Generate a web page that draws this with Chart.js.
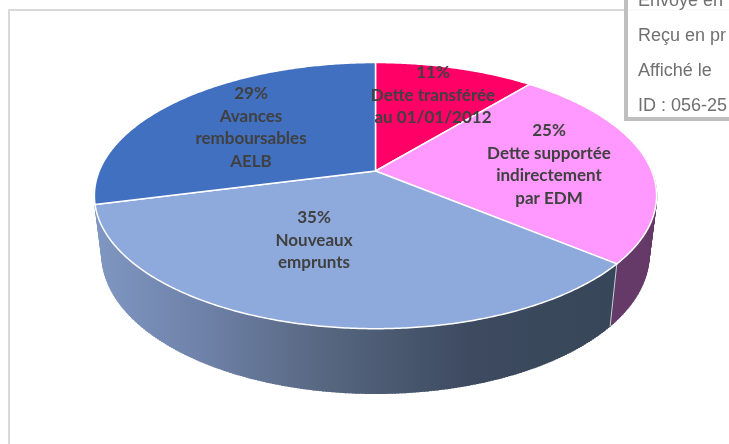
<!DOCTYPE html>
<html>
<head>
<meta charset="utf-8">
<script src="https://cdn.jsdelivr.net/npm/chart.js@4/dist/chart.umd.js"></script>
<style>
  html, body { margin: 0; padding: 0; background: #fff; }
  #wrap { position: relative; width: 729px; height: 444px; overflow: hidden; }
  #frame { position: absolute; left: 8px; top: 9px; width: 800px; height: 500px; border: 2px solid #d9d9d9; }
  #myChart { position: absolute; left: 0; top: 0; }
  #stamp { position: absolute; left: 624px; top: -4px; width: 120px; height: 117px; border: 4px solid #bfbfbf;
           background: rgba(255,255,255,0.85); font: 18px "Liberation Sans", Arial, sans-serif; color: #707070; }
  #stamp div { position: absolute; left: 10px; white-space: nowrap; }
</style>
</head>
<body>
<div id="wrap">
  <div id="frame"></div>
  <canvas id="myChart" width="729" height="444"></canvas>
  <div id="stamp">
    <div style="top:-10px">Envoyé en</div>
    <div style="top:25px">Reçu en pr</div>
    <div style="top:60px">Affiché le</div>
    <div style="top:95px">ID : 056-25</div>
  </div>
</div>
<script>
var categories = ['Dette transférée au 01/01/2012', 'Dette supportée indirectement par EDM', 'Nouveaux emprunts', 'Avances remboursables AELB']
var values = [11, 25, 35, 29]
var labelLines = [
  ['11%', 'Dette transférée', 'au 01/01/2012'],
  ['25%', 'Dette supportée', 'indirectement', 'par EDM'],
  ['35%', 'Nouveaux', 'emprunts'],
  ['29%', 'Avances', 'remboursables', 'AELB']
]
var topColors = ['#ff0066', '#ff99ff', '#8ea9db', '#4170c0']
var labelPos = [[433, 73], [549, 131], [314, 218], [251, 94]]

// tilt of the disc, all relative to the radius chart.js gives the arcs
var tilt = 0.185

function rim(arc, angle, level) {
  // angle is chart.js angle, top of the pie = -PI/2
  var sx = Math.cos(angle)
  var sy = -Math.sin(angle)
  var d = 1 + tilt * sy
  var R = arc.outerRadius
  if (level == 0) {
    return [arc.x + 1.625 * R * sx / d, arc.y - 0.756 * R * sy / d]
  }
  return [arc.x + 1.58 * R * sx / d, arc.y + 0.345 * R - 0.788 * R * sy / d]
}

function arcPoints(arc, level) {
  var pts = []
  var n = Math.ceil((arc.endAngle - arc.startAngle) / 0.01)
  for (var i = 0; i <= n; i++) {
    pts.push(rim(arc, arc.startAngle + (arc.endAngle - arc.startAngle) * i / n, level))
  }
  return pts
}

// only the two slices at the front show a wall
function wallFill(ctx, i) {
  if (i == 1) return '#653a68'
  if (i != 2) return null
  var g = ctx.createLinearGradient(95, 0, 615, 0)
  g.addColorStop(0, '#7f97c2')
  g.addColorStop(0.2, '#6f82a9')
  g.addColorStop(0.45, '#56667f')
  g.addColorStop(0.72, '#3d4a60')
  g.addColorStop(1, '#374658')
  return g
}

var pie3d = {
  id: 'pie3d',
  beforeDatasetsDraw: function(chart) {
    var ctx = chart.ctx
    var arcs = chart.getDatasetMeta(0).data
    ctx.save()
    ctx.lineJoin = 'round'
    // side wall first, the top surface covers what is behind it
    arcs.forEach(function(arc, i) {
      var fill = wallFill(ctx, i)
      if (!fill) return
      var a = arcPoints(arc, 0)
      var b = arcPoints(arc, 1)
      ctx.fillStyle = fill
      ctx.strokeStyle = fill
      ctx.lineWidth = 1.5
      // sweep top rim to bottom rim so the silhouette at the sides is filled
      a.forEach(function(p, j) {
        ctx.beginPath()
        ctx.moveTo(p[0], p[1])
        ctx.lineTo(b[j][0], b[j][1])
        ctx.stroke()
      })
      ctx.beginPath()
      a.concat(b.slice().reverse()).forEach(function(p, j) {
        if (j == 0) ctx.moveTo(p[0], p[1])
        else ctx.lineTo(p[0], p[1])
      })
      ctx.closePath()
      ctx.fill()
    })
    // light seam between the two walls
    var seam = arcs[1]
    var s0 = rim(seam, seam.endAngle, 0), s1 = rim(seam, seam.endAngle, 1)
    ctx.strokeStyle = 'rgba(255,255,255,0.75)'
    ctx.lineWidth = 1
    ctx.beginPath()
    ctx.moveTo(s0[0], s0[1])
    ctx.lineTo(s1[0], s1[1])
    ctx.stroke()
    arcs.forEach(function(arc, i) {
      ctx.beginPath()
      ctx.moveTo(arc.x, arc.y)
      arcPoints(arc, 0).forEach(function(p) { ctx.lineTo(p[0], p[1]) })
      ctx.closePath()
      ctx.fillStyle = topColors[i]
      ctx.fill()
      ctx.strokeStyle = '#fff'
      ctx.lineWidth = 1.5
      ctx.stroke()
    })
    ctx.restore()
    return false
  },
  afterDraw: function(chart) {
    var ctx = chart.ctx
    ctx.save()
    ctx.font = 'bold 17px Lato'
    ctx.fillStyle = '#404040'
    ctx.textAlign = 'center'
    ctx.textBaseline = 'middle'
    labelLines.forEach(function(lines, i) {
      lines.forEach(function(t, j) {
        ctx.fillText(t, labelPos[i][0], labelPos[i][1] + j * 22.4)
      })
    })
    ctx.restore()
  }
}

var ctx = document.getElementById('myChart').getContext('2d')
var chart = new Chart(ctx, {
  type: 'pie',
  data: {
    labels: categories,
    datasets: [{ data: values, backgroundColor: topColors, borderColor: '#fff' }]
  },
  options: {
    responsive: false,
    animation: false,
    layout: { padding: { left: 22, right: 0, top: 0, bottom: 102 } },
    plugins: { legend: { display: false }, tooltip: { enabled: false } }
  },
  plugins: [pie3d]
})
</script>
</body>
</html>
